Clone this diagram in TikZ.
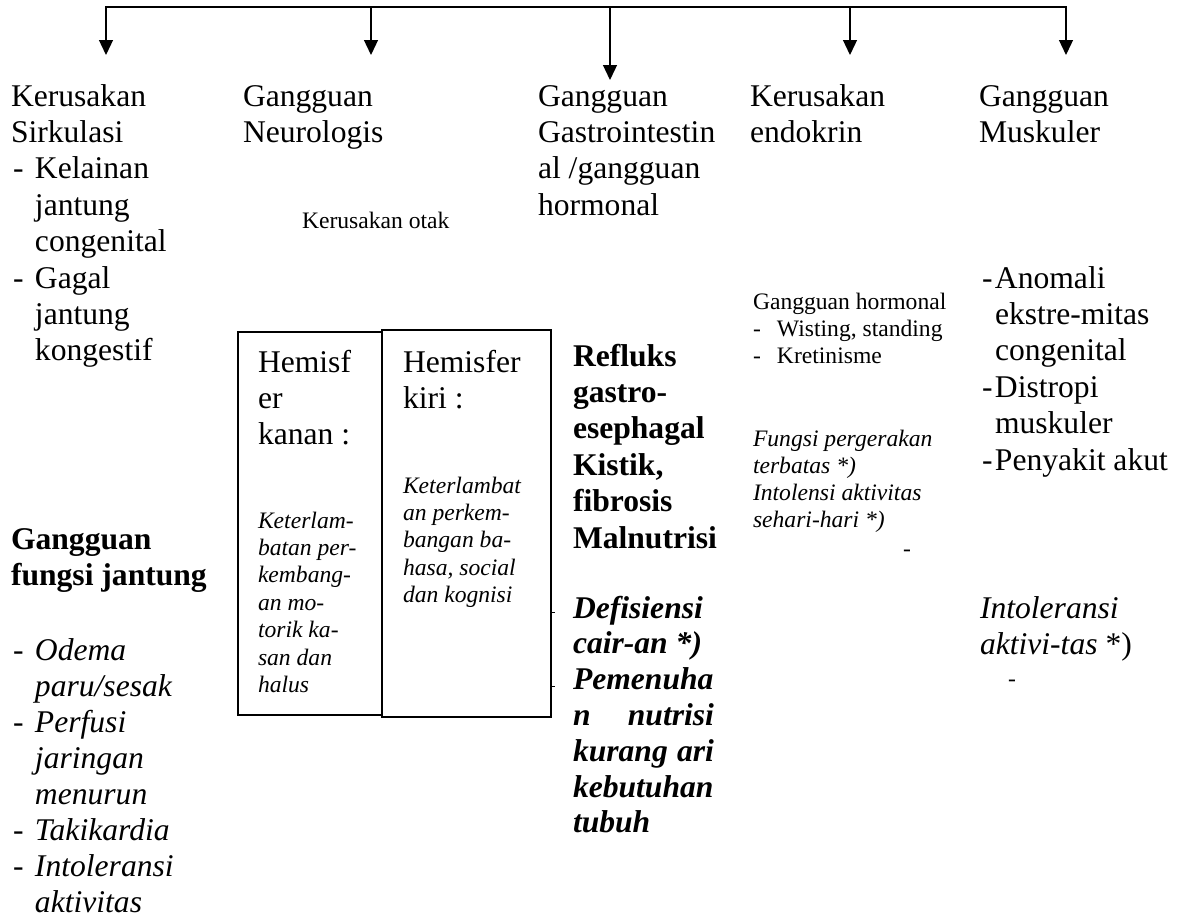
\documentclass[tikz,border=0pt]{standalone}
\usepackage{fontspec}
\setmainfont{Liberation Serif}
\usetikzlibrary{arrows.meta}
\newcommand\bigtxt{\fontsize{31.6}{36.4}\selectfont}
\newcommand\smtxt{\fontsize{23.6}{27.3}\selectfont}
\newcommand\blk[2]{\parbox[t]{#1}{\raggedright #2}}
\begin{document}
\begin{tikzpicture}[x=1pt,y=-1pt,
  txt/.style={anchor=base west,inner sep=0pt,outer sep=0pt},
  bus/.style={line width=2.2pt},
  arr/.style={line width=1.3pt,-{Triangle[length=15pt,width=14pt]}},
  boxl/.style={draw,line width=1.7pt},
  tick/.style={line width=1pt}]
\useasboundingbox (0,0) rectangle (1181,918);

% connectors
\coordinate (b1) at (106,7);
\coordinate (b2) at (371,7);
\coordinate (b3) at (610,7);
\coordinate (b4) at (850,7);
\coordinate (b5) at (1066,7);
\coordinate (t1) at (106,55);
\coordinate (t2) at (371,55);
\coordinate (t3) at (610,80);
\coordinate (t4) at (850,55);
\coordinate (t5) at (1066,55);
\draw[bus] ([xshift=-0.8pt]b1) -- ([xshift=0.8pt]b5);
\foreach \i in {1,...,5} \draw[arr] (b\i) -- (t\i);

% column 1
\node[txt] (c1a) at (11,106) {\blk{220pt}{\bigtxt Kerusakan\\Sirkulasi\\
\hspace*{2pt}\makebox[22pt][l]{-}Kelainan\\\hspace*{24pt}jantung\\\hspace*{24pt}congenital\\
\hspace*{2pt}\makebox[22pt][l]{-}Gagal\\\hspace*{24pt}jantung\\\hspace*{24pt}kongestif}};
\node[txt] (c1b) at (11,549) {\blk{220pt}{\bigtxt\bfseries Gangguan\\fungsi jantung}};
\node[txt] (c1c) at (11,660) {\blk{220pt}{\fontsize{31.6}{36.1}\selectfont
\hspace*{2pt}\makebox[22pt][l]{-}\textit{Odema}\\\hspace*{24pt}\textit{paru/sesak}\\
\hspace*{2pt}\makebox[22pt][l]{-}\textit{Perfusi}\\\hspace*{24pt}\textit{jaringan}\\\hspace*{24pt}\textit{menurun}\\
\hspace*{2pt}\makebox[22pt][l]{-}\textit{Takikardia}\\
\hspace*{2pt}\makebox[22pt][l]{-}\textit{Intoleransi}\\\hspace*{24pt}\textit{aktivitas}}};

% column 2
\node[txt] (c2a) at (243,106) {\blk{220pt}{\bigtxt Gangguan\\Neurologis}};
\node[txt] (otak) at (302,228) {\smtxt Kerusakan otak};
\draw[boxl] (238,332) rectangle (382,715);
\draw[boxl] (382,330) rectangle (551,717);
\node[txt] (hka) at (258,372) {\blk{120pt}{\bigtxt Hemisf\\er\\kanan :}};
\node[txt] (hki) at (403,372) {\blk{140pt}{\bigtxt Hemisfer\\kiri :}};
\node[txt] (kka) at (258,528) {\blk{120pt}{\fontsize{23.6}{27.4}\selectfont\itshape Keterlam-\\batan per-\\kembang-\\an mo-\\torik ka-\\san dan\\halus}};
\node[txt] (kki) at (403,493) {\blk{140pt}{\fontsize{23.6}{27.4}\selectfont\itshape Keterlambat\\an perkem-\\bangan ba-\\hasa, social\\dan kognisi}};
\coordinate (tk1) at (551,612);
\coordinate (tk2) at (551,686);
\draw[tick] (tk1) -- ++(4,0);
\draw[tick] (tk2) -- ++(4,0);

% column 3
\node[txt] (c3a) at (538,106) {\blk{200pt}{\bigtxt Gangguan\\Gastrointestin\\al /gangguan\\hormonal}};
\node[txt] (c3b) at (573,366) {\blk{160pt}{\bigtxt\bfseries Refluks\\gastro-\\esephagal\\Kistik,\\fibrosis\\Malnutrisi}};
\node[txt] (c3c) at (573,618) {\blk{141pt}{\fontsize{31.6}{35.8}\selectfont\bfseries\itshape Defisiensi\\cair-an *)\\Pemenuha\\n\hfill nutrisi\\kurang\hfill ari\\kebutuhan\\tubuh}};

% column 4
\node[txt] (c4a) at (750,106) {\blk{200pt}{\bigtxt Kerusakan\\endokrin}};
\node[txt] (c4b) at (753,309) {\blk{220pt}{\smtxt Gangguan hormonal\\
\makebox[24pt][l]{-}Wisting, standing\\\makebox[24pt][l]{-}Kretinisme}};
\node[txt] (c4c) at (753,446) {\blk{220pt}{\smtxt\itshape Fungsi pergerakan\\terbatas *)\\Intolensi aktivitas\\sehari-hari *)}};
\node[txt] (d1) at (903,556) {\smtxt -};

% column 5
\node[txt] (c5a) at (979,106) {\blk{200pt}{\bigtxt Gangguan\\Muskuler}};
\node[txt] (c5b) at (979,288) {\blk{200pt}{\bigtxt
\hspace*{3pt}\makebox[13pt][l]{-}Anomali\\\hspace*{16pt}ekstre-mitas\\\hspace*{16pt}congenital\\
\hspace*{3pt}\makebox[13pt][l]{-}Distropi\\\hspace*{16pt}muskuler\\
\hspace*{3pt}\makebox[13pt][l]{-}Penyakit akut}};
\node[txt] (c5c) at (980,618) {\blk{200pt}{\bigtxt\textit{Intoleransi}\\\textit{aktivi-tas} *)}};
\node[txt] (d2) at (1008,686) {\smtxt -};
\end{tikzpicture}
\end{document}
